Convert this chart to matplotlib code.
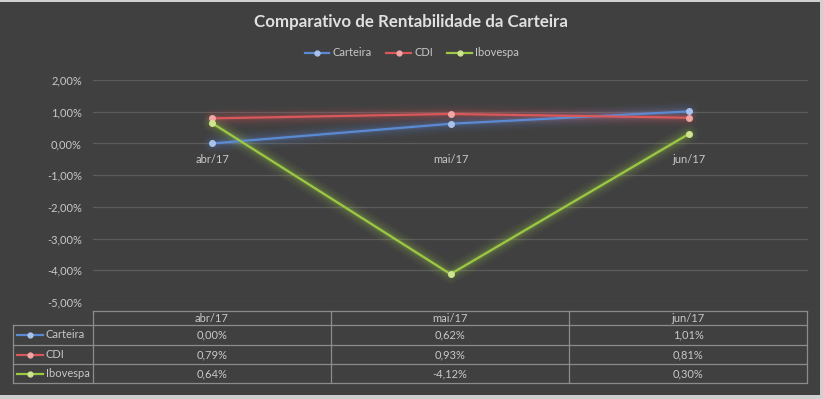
import matplotlib
matplotlib.use("Agg")
import matplotlib.pyplot as plt
from matplotlib.patches import Rectangle
from matplotlib.lines import Line2D

categories = ["abr/17", "mai/17", "jun/17"]
series_names = ["Carteira", "CDI", "Ibovespa"]
carteira = [0.00, 0.62, 1.01]
cdi = [0.79, 0.93, 0.81]
ibovespa = [0.64, -4.12, 0.30]
yticks = [2, 1, 0, -1, -2, -3, -4, -5]
title = "Comparativo de Rentabilidade da Carteira"

values = [carteira, cdi, ibovespa]
line_colors = ["#5B8AD2", "#D9585A", "#9CC843"]
marker_colors = ["#A9C2EC", "#F2A5A5", "#CDE58E"]
bg = "#404040"
txt = "#C8C8C8"
FONT = "Lato"
FS = 8.0

W, H = 823, 399
fig = plt.figure(figsize=(W / 100, H / 100), dpi=100, facecolor="#D0D0D0")
fig.patches.append(Rectangle((0, 4 / H), 820 / W, 393 / H, transform=fig.transFigure,
                             facecolor=bg, edgecolor="none", zorder=-10))

def fx(px):
    return px / W

def fy(py):
    return 1 - py / H

x0, x1 = 93, 808
ytop, ybot = 80, 302
ax = fig.add_axes([fx(x0), fy(ybot), fx(x1 - x0), (ybot - ytop) / H])
ax.set_zorder(1)
ax.set_facecolor("none")
ax.set_xlim(-0.5, len(categories) - 0.5)
ax.set_ylim(-5, 2)
ax.set_yticks(yticks)
ax.set_yticklabels([f"{v:.2f}%".replace(".", ",") for v in yticks],
                   fontsize=FS, color=txt, family=FONT)
ax.tick_params(axis="y", length=0, pad=8)
ax.grid(axis="y", color="#5C5C5C", linewidth=0.9)
ax.set_axisbelow(True)
for s in ax.spines.values():
    s.set_visible(False)
ax.set_xticks([])
for i, c in enumerate(categories):
    ax.annotate(c, (i, 0), xytext=(0, -11.5), textcoords="offset points",
                ha="center", va="center", fontsize=FS, color=txt, family=FONT)

xs = list(range(len(categories)))
for vals, lc, mc in zip(values, line_colors, marker_colors):
    for lw, a in [(14, 0.04), (11, 0.05), (8, 0.07), (5.5, 0.09), (3.5, 0.12)]:
        ax.plot(xs, vals, color=lc, linewidth=lw, alpha=a, solid_capstyle="round", zorder=2)
    ax.plot(xs, vals, color=lc, linewidth=1.6, zorder=3)
    ax.plot(xs, vals, linestyle="none", marker="o", markersize=4.0,
            markerfacecolor=mc, markeredgecolor=mc, zorder=4)

# Title
fig.text(fx(411), fy(22), title, ha="center", va="center", fontsize=12.2,
         fontweight="bold", color="#E0E0E0", family=FONT)

# Legend
handles = [Line2D([0], [0], color=lc, linewidth=1.6, marker="o", markersize=3.5,
                  markerfacecolor=mc, markeredgecolor=mc)
           for lc, mc in zip(line_colors, marker_colors)]
fig.legend(handles, series_names, loc="center", bbox_to_anchor=(fx(412), fy(53)),
           ncol=3, frameon=False, handlelength=2.2, handletextpad=0.3,
           columnspacing=1.3, prop={"family": FONT, "size": FS}, labelcolor=txt)

# Data table
grid_c = "#8C8C8C"
tl, tc, tr = 13, 93, 807
col_edges = [tc, 331, 569, tr]
row_edges = [311, 325, 345, 364, 383]

def hline(y, xa, xb):
    fig.add_artist(Line2D([fx(xa), fx(xb)], [fy(y), fy(y)], color=grid_c, linewidth=0.9,
                          transform=fig.transFigure))

def vline(x, ya, yb):
    fig.add_artist(Line2D([fx(x), fx(x)], [fy(ya), fy(yb)], color=grid_c, linewidth=0.9,
                          transform=fig.transFigure))

hline(row_edges[0], tc, tr)
for y in row_edges[1:]:
    hline(y, tl, tr)
vline(tl, row_edges[1], row_edges[-1])
for x in col_edges:
    vline(x, row_edges[0], row_edges[-1])

for j, c in enumerate(categories):
    cx = (col_edges[j] + col_edges[j + 1]) / 2
    cy = (row_edges[0] + row_edges[1]) / 2
    fig.text(fx(cx), fy(cy), c, ha="center", va="center", fontsize=FS, color=txt, family=FONT)

for i, (name, vals, lc, mc) in enumerate(zip(series_names, values, line_colors, marker_colors)):
    cy = (row_edges[i + 1] + row_edges[i + 2]) / 2
    fig.add_artist(Line2D([fx(17), fx(43)], [fy(cy), fy(cy)], color=lc, linewidth=1.6,
                          transform=fig.transFigure))
    fig.add_artist(Line2D([fx(30)], [fy(cy)], marker="o", markersize=3.5, markerfacecolor=mc,
                          markeredgecolor=mc, transform=fig.transFigure))
    fig.text(fx(46), fy(cy), name, ha="left", va="center", fontsize=FS, color=txt, family=FONT)
    for j, v in enumerate(vals):
        cx = (col_edges[j] + col_edges[j + 1]) / 2
        fig.text(fx(cx), fy(cy), f"{v:.2f}%".replace(".", ","), ha="center", va="center",
                 fontsize=FS, color=txt, family=FONT)

fig.savefig("out.png", dpi=100, facecolor=fig.get_facecolor())
